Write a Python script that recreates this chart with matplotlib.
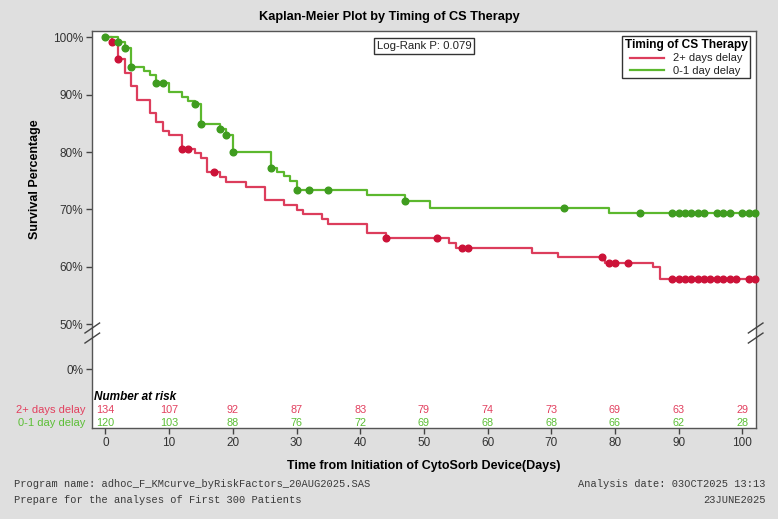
import numpy as np
import matplotlib
matplotlib.use("Agg")
import matplotlib.pyplot as plt
import matplotlib.transforms as mtransforms
from matplotlib.lines import Line2D
from matplotlib import font_manager

# ---------------- data ----------------
red_label = "2+ days delay"
green_label = "0-1 day delay"

red_t = [0, 1, 2, 3, 4, 5, 7, 8, 9, 10, 12, 14, 15, 16, 18, 19, 22, 25, 28, 30, 31,
         34, 35, 41, 44, 54, 55, 67, 71, 78.4, 86, 87]
red_s = [100, 99.1, 96.2, 93.7, 91.5, 89.1, 86.8, 85.3, 83.6, 83.0, 80.5, 79.8, 78.9,
         76.6, 75.7, 74.8, 74.0, 71.6, 70.8, 69.9, 69.2, 68.3, 67.5, 65.85, 65.1, 64.2,
         63.3, 62.5, 61.7, 60.6, 59.9, 57.9]
red_cens = [1, 2, 12, 13, 17, 44, 52, 56, 57, 78, 79, 80, 82, 89, 90, 91, 92, 93, 94,
            95, 96, 97, 98, 99, 101, 102]

green_t = [0, 2, 3, 4, 6, 7, 8, 10, 12, 13, 14, 15, 18, 19, 20, 26, 27, 28, 29, 30,
           41, 47, 51, 79]
green_s = [100, 99.2, 98.2, 94.8, 94.2, 93.5, 92.1, 90.4, 89.6, 88.9, 88.4, 84.9, 84.0,
           83.0, 80.1, 77.3, 76.6, 75.9, 75.0, 73.4, 72.5, 71.4, 70.3, 69.3]
green_cens = [0, 2, 3, 4, 8, 9, 14, 15, 18, 19, 20, 26, 30, 32, 35, 47, 72, 84, 89, 90,
              91, 92, 93, 94, 96, 97, 98, 100, 101, 102]

risk_times = [0, 10, 20, 30, 40, 50, 60, 70, 80, 90, 100]
red_risk = [134, 107, 92, 87, 83, 79, 74, 73, 69, 63, 29]
green_risk = [120, 103, 88, 76, 72, 69, 68, 68, 66, 62, 28]

ytick_vals = [100, 90, 80, 70, 60, 50]
ytick_labels = ["100%", "90%", "80%", "70%", "60%", "50%"]
zero_label = "0%"
xticks = [0, 10, 20, 30, 40, 50, 60, 70, 80, 90, 100]

# ---------------- styling ----------------
avail = {f.name for f in font_manager.fontManager.ttflist}
narrow = "Liberation Sans Narrow" if "Liberation Sans Narrow" in avail else "Liberation Sans"
plt.rcParams["font.family"] = ["Liberation Sans", "DejaVu Sans"]

BG = "#dfdfdf"
RED_LINE = "#dc3d5c"
RED_MK = "#cc1238"
GRN_LINE = "#5cb82e"
GRN_MK = "#3f9c1f"
RED_TXT = "#e2405f"
GRN_TXT = "#5cbf36"

fig = plt.figure(figsize=(7.78, 5.19), dpi=100, facecolor=BG)
ax = fig.add_axes([0.1186, 0.1748, 0.8527, 0.7664])
ax.set_facecolor("white")

XMIN, XMAX = -2.07, 102.1
YMIN, YMAX = 31.88, 101.18
ZERO_POS = 42.16
ax.set_xlim(XMIN, XMAX)
ax.set_ylim(YMIN, YMAX)


def step_val(ts, ss, t):
    idx = np.searchsorted(np.asarray(ts), t, side="right") - 1
    return np.asarray(ss)[idx]


for ts, ss, cens, lc, mc in [(red_t, red_s, red_cens, RED_LINE, RED_MK),
                              (green_t, green_s, green_cens, GRN_LINE, GRN_MK)]:
    xs = list(ts) + [XMAX]
    ys = list(ss) + [ss[-1]]
    ax.step(xs, ys, where="post", color=lc, lw=1.6, clip_on=True, zorder=3)
    cy = [step_val(ts, ss, c) for c in cens]
    ax.plot(cens, cy, "o", color=mc, ms=4.8, mec=mc, zorder=4, clip_on=False)

# axes style
for s in ax.spines.values():
    s.set_color("#555555")
    s.set_linewidth(1.0)
ax.set_yticks(ytick_vals + [ZERO_POS])
ax.set_yticklabels(ytick_labels + [zero_label])
ax.set_xticks(xticks)
ax.tick_params(axis="both", direction="out", length=4.5, width=1, color="#444444",
               labelsize=8.5, labelcolor="#333333", pad=2)

# axis break marks
brk = mtransforms.blended_transform_factory(ax.transAxes, ax.transData)
for xa in (0.0, 1.0):
    for y0 in (49.35, 47.6):
        ax.plot([xa - 0.011, xa + 0.011], [y0 - 0.87, y0 + 0.87], color="#444444",
                lw=1, transform=brk, clip_on=False, zorder=5)

# labels
ax.set_xlabel("Time from Initiation of CytoSorb Device(Days)", fontsize=9,
              fontweight="bold", family=[narrow, "DejaVu Sans"], labelpad=8)
fig.text(0.045, 0.655, "Survival Percentage", rotation=90, ha="center", va="center",
         fontsize=9, fontweight="bold", family=[narrow, "DejaVu Sans"])
fig.text(0.5, 0.967, "Kaplan-Meier Plot by Timing of CS Therapy", ha="center",
         va="center", fontsize=9.2, fontweight="bold", family=[narrow, "DejaVu Sans"])

# Log-rank box
ax.text(0.5, 0.973, "Log-Rank P: 0.079", transform=ax.transAxes, ha="center",
        va="top", fontsize=8.2, color="#222222",
        bbox=dict(boxstyle="square,pad=0.25", fc="white", ec="#333333", lw=1))

# legend
handles = [Line2D([], [], color=RED_LINE, lw=1.6), Line2D([], [], color=GRN_LINE, lw=1.6)]
leg = ax.legend(handles, [red_label, green_label], title="Timing of CS Therapy",
                loc="upper right", bbox_to_anchor=(0.992, 0.985), fontsize=8,
                title_fontproperties={"weight": "bold", "size": 8.6,
                                      "family": [narrow, "DejaVu Sans"]},
                frameon=True, fancybox=False, edgecolor="#333333", framealpha=1,
                borderpad=0.25, labelspacing=0.2, handlelength=3.0, handletextpad=0.8,
                borderaxespad=0)
leg.get_frame().set_linewidth(1.0)
for t in leg.get_texts():
    t.set_color("#222222")

# number at risk
ax.text(-1.8, 37.33, "Number at risk", fontsize=8.5, fontweight="bold",
        style="italic", ha="left", va="center", family=[narrow, "DejaVu Sans"])
for rowy, vals, col, lab in [(35.07, red_risk, RED_TXT, red_label),
                             (32.86, green_risk, GRN_TXT, green_label)]:
    for t, v in zip(risk_times, vals):
        ax.text(t, rowy, str(v), color=col, fontsize=7.8, ha="center", va="center",
                family=[narrow, "DejaVu Sans"])
    ax.text(-3.2, rowy, lab, color=col, fontsize=8, ha="right", va="center",
            clip_on=False, family=[narrow, "DejaVu Sans"])

# footer
mono = ["Liberation Mono", "DejaVu Sans Mono"]
for xf, yf, txt, ha in [(14, 484, "Program name: adhoc_F_KMcurve_byRiskFactors_20AUG2025.SAS", "left"),
                        (766, 484, "Analysis date: 03OCT2025 13:13", "right"),
                        (14, 500, "Prepare for the analyses of First 300 Patients", "left"),
                        (766, 500, "23JUNE2025", "right")]:
    fig.text(xf / 778, 1 - yf / 519, txt, fontsize=7.5, family=mono, color="#3a3a3a",
             va="center", ha=ha)

fig.savefig("out.png", dpi=100, facecolor=BG)
